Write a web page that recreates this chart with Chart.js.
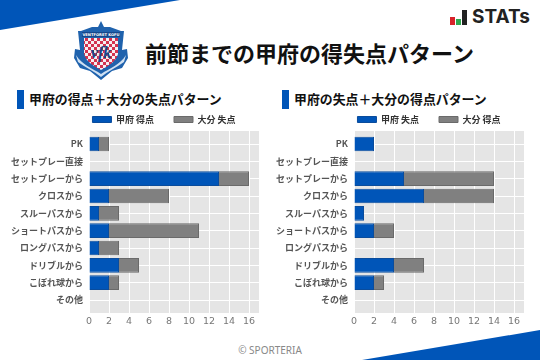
<!DOCTYPE html>
<html>
<head>
<meta charset="utf-8">
<script src="https://cdn.jsdelivr.net/npm/chart.js@4"></script>
<style>
  html, body { margin: 0; padding: 0; background: #fff; }
  body { position: relative; width: 540px; height: 360px; overflow: hidden; font-family: "Noto Sans CJK JP", sans-serif; }
  .abs { position: absolute; }
  .title { left: 145px; top: 36px; font-size: 22px; font-weight: 700; color: #111; line-height: 32px; white-space: nowrap; }
  .sub { top: 89px; font-size: 12.9px; font-weight: 700; color: #111; line-height: 20px; white-space: nowrap; }
  .mark { top: 90px; width: 7px; height: 19px; background: #0055b8; }
  .copy { left: 0; width: 540px; top: 342px; text-align: center; font-family: "Noto Sans", sans-serif; font-size: 10px; color: #888; line-height: 16px; }
  .stats { left: 472px; top: 5px; font-family: "Inter", sans-serif; font-size: 19px; font-weight: 700; color: #222; line-height: 24px; }
  canvas { position: absolute; top: 95px; }
</style>
</head>
<body>
<svg class="abs" style="left:0;top:0" width="540" height="360">
  <defs>
    <pattern id="check" x="85" y="38" width="6" height="6" patternUnits="userSpaceOnUse">
      <rect width="6" height="6" fill="#f4f0f2"/>
      <rect width="3" height="3" fill="#d4324f"/>
      <rect x="3" y="3" width="3" height="3" fill="#d4324f"/>
    </pattern>
  </defs>
  <polygon points="0,0 180,0 0,30" fill="#0055b8"/>
  <polygon points="362,360 540,330 540,360" fill="#0055b8"/>
  <!-- crest -->
  <path d="M101,21 L104,27 L110,27 L121,31 L124,31 L122,50 L127,49 L128,58 L122,68 L112,71 L101,80 L90,71 L80,68 L74,58 L75,49 L80,50 L78,31 L81,31 L92,27 L98,27 Z" fill="#1f62ad"/>
  <path d="M84,38 L118,38 L118,54 C116,62 108,66 101,70 C94,66 86,62 84,54 Z" fill="url(#check)"/>
  <path d="M76,55 C82,65 92,68 101,74 C110,68 120,65 126,55 L124,62 C116,68 108,71 101,77 C94,71 86,68 78,62 Z" fill="#cfe0f2"/>
  <rect x="82" y="32" width="38" height="5" fill="#16488c"/>
  <text x="101" y="36.2" font-size="3.7" font-family="DejaVu Sans" font-weight="700" fill="#fff" text-anchor="middle">VENTFORET KOFU</text>
  <text x="101" y="58" font-size="16" font-family="Liberation Serif" font-style="italic" font-weight="700" fill="#16488c" text-anchor="middle">vfk</text>
  <!-- stats mark -->
  <rect x="450" y="17" width="5" height="8" fill="#d8232a"/>
  <rect x="456" y="19" width="5" height="6" fill="#2fa84f"/>
  <rect x="462" y="10" width="5" height="15" fill="#222"/>
</svg>
<div class="abs stats">STATs</div>
<div class="abs title">前節までの甲府の得失点パターン</div>
<div class="abs mark" style="left:17px"></div>
<div class="abs sub" style="left:29px">甲府の得点＋大分の失点パターン</div>
<div class="abs mark" style="left:282px"></div>
<div class="abs sub" style="left:294px">甲府の失点＋大分の得点パターン</div>
<canvas id="chartLeft" width="259" height="235" style="left:0"></canvas>
<canvas id="chartRight" width="259" height="235" style="left:265px"></canvas>
<div class="abs copy">© SPORTERIA</div>
<script>
const categories = ["PK", "セットプレー直接", "セットプレーから", "クロスから", "スルーパスから", "ショートパスから", "ロングパスから", "ドリブルから", "こぼれ球から", "その他"];
const xTicks = [0, 2, 4, 6, 8, 10, 12, 14, 16];

const kofuGoals = [1, 0, 13, 2, 1, 2, 1, 3, 2, 0];
const oitaConceded = [1, 0, 3, 6, 2, 9, 2, 2, 1, 0];
const kofuConceded = [2, 0, 5, 7, 1, 2, 0, 4, 2, 0];
const oitaGoals = [0, 0, 9, 7, 0, 2, 0, 3, 1, 0];

const blue = "#0055b8";
const gray = "#808080";

// fills the plot background before the grid is drawn
const plotBackground = {
  id: "plotBackground",
  beforeDraw(chart) {
    const a = chart.chartArea;
    chart.ctx.fillStyle = "#e5e5e5";
    chart.ctx.fillRect(a.left, a.top, a.right - a.left, a.bottom - a.top);
  }
};

// legend padding also sets the gap between items, so fix its height by hand.
// the y box is kept narrow for the legend centring, then opened up again so
// the category labels are not clipped to it
const layoutFixes = {
  id: "layoutFixes",
  beforeInit(chart) {
    const fit = chart.legend.fit;
    chart.legend.fit = function () {
      fit.call(this);
      this.height = 36;
    };
  },
  afterLayout(chart) {
    chart.scales.y.left = 0;
  }
};

function makeChart(id, blueName, blueValues, grayName, grayValues) {
  return new Chart(document.getElementById(id), {
    type: "bar",
    data: {
      labels: categories.map((c, i) => i),
      datasets: [
        { label: blueName, data: blueValues, backgroundColor: blue, borderColor: "#0a4c9c", borderWidth: 1, stack: "a", categoryPercentage: 1, barPercentage: 0.85 },
        { label: grayName, data: grayValues, backgroundColor: gray, borderColor: "#6a6a6a", borderWidth: 1, stack: "a", categoryPercentage: 1, barPercentage: 0.85 }
      ]
    },
    plugins: [plotBackground, layoutFixes],
    options: {
      indexAxis: "y",
      responsive: false,
      animation: false,
      layout: { padding: { top: 0, right: 0, bottom: 0, left: 69 } },
      plugins: {
        tooltip: { enabled: false },
        legend: {
          position: "top",
          labels: {
            boxWidth: 19,
            boxHeight: 6,
            padding: 20,
            color: "#333",
            font: { family: "'Noto Sans CJK JP'", size: 9, weight: "700" }
          }
        }
      },
      scales: {
        x: {
          type: "linear",
          stacked: true,
          min: 0,
          max: 17,
          afterBuildTicks(scale) { scale.ticks = xTicks.map(v => ({ value: v })); },
          afterFit(scale) { scale.height = 17; },
          grid: { color: "#fff", lineWidth: 1, drawTicks: false },
          border: { display: false },
          ticks: { color: "#777", padding: 3, maxRotation: 0, font: { family: "'DejaVu Sans'", size: 9.5 } }
        },
        y: {
          type: "linear",
          stacked: true,
          reverse: true,
          offset: false,
          min: -0.75,
          max: 9.75,
          afterBuildTicks(scale) { scale.ticks = categories.map((c, i) => ({ value: i })); },
          afterFit(scale) { scale.width = 20; },
          grid: { color: "#fff", lineWidth: 1, drawTicks: false, offset: false },
          border: { display: false },
          ticks: {
            color: "#555",
            padding: 6,
            autoSkip: false,
            font: { family: "'Noto Sans CJK JP'", size: 9, weight: "700" },
            callback: v => categories[v]
          }
        }
      }
    }
  });
}

makeChart("chartLeft", "甲府 得点", kofuGoals, "大分 失点", oitaConceded);
makeChart("chartRight", "甲府 失点", kofuConceded, "大分 得点", oitaGoals);
</script>
</body>
</html>
